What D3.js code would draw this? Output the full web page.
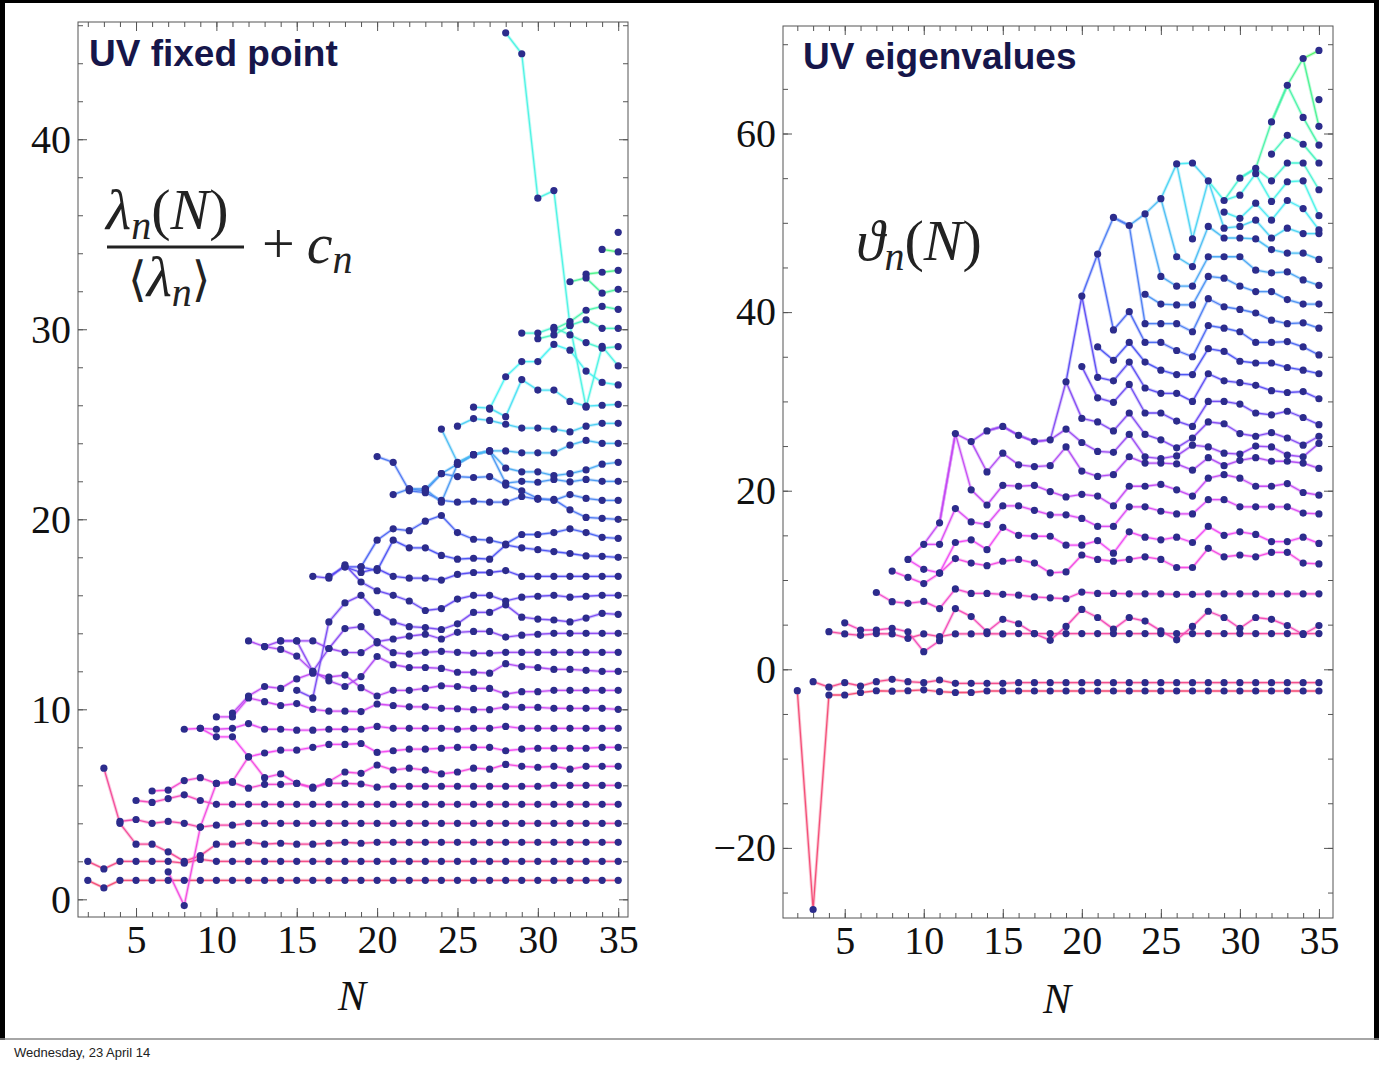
<!DOCTYPE html>
<html><head><meta charset="utf-8">
<script src="https://cdn.jsdelivr.net/npm/d3@7"></script>
<style>
body{margin:0;background:#fff;}
svg{display:block;}
</style></head><body>
<svg id="c" width="1379" height="1066"></svg>
<script>
// ---------------- LEFT PANEL: lambda_n(N)/<lambda_n> + c_n ; series n starts at N = max(2, n+1)
const lam0 = [1,0.6, 1,1,1,1,1,1,1,1, 1,1,1,1,1,1,1,1, 1,1,1,1,1,1,1,1, 1,1,1,1,1,1,1,1];
const lam1 = [2,1.6,2,2,2,2,1.9,2.1,2, 2,2,2,2,2,2,2,2, 2,2,2,2,2,2,2,2, 2,2,2,2,2,2,2,2, 2];
const lam2 = [6.9,4.0,2.9,2.9,2.5,2.0,2.3,2.9,2.9,3.0,2.9,2.95,2.9,2.9,2.95,3.0,2.95, 3,3,3,3,3,3,3,3, 3,3,3,3,3,3,3,3];
const lam3 = [4.1,4.2,4.0,4.1,4.0,3.8,3.9,3.9,4.0, 4,4,4,4,4,4,4,4, 4,4,4,4,4,4,4,4, 4,4,4,4,4,4,4];
const lam4 = [5.2,5.1,5.3,5.5,5.2,5.0, 5,5,5,5,5,5,5,5, 5,5,5,5,5,5,5,5, 5,5,5,5,5,5,5,5, 5];
const lam5 = [5.7,5.75,6.25,6.4,6.1,6.15,5.85,6.05,6.05,6.1,5.9,6.1,6.1,6.07,5.9,5.95,5.95,5.95,5.95,5.95,5.95,5.95,5.95,5.95,5.95,6,6,6,6,6];
const lam6 = [1.45,-0.33,3.8,6.1,6.2,7.5,6.4,6.6,6.1,5.85,6.2,6.7,6.63,7.07,6.8,6.9,6.8,6.6,6.7,6.9,6.85,7.1,7.0,6.95,7.0,6.85,7.0,7.0,7.0];
const lam7 = [8.95,9.0,8.55,8.55,7.5,7.7,7.85,7.85,8.0,8.15,8.15,8.2,7.73,7.82,7.9,7.9,7.95,8.0,8.0,8.0,7.82,7.9,7.95,7.95,7.95,7.95,8.0,8.0];
const lam8 = [9.0,8.95,9.0,9.25,8.95,8.95,8.9,8.9,8.95,8.95,8.95,9.1,9.0,9.0,9.0,9.0,8.95,9.0,9.0,9.1,9.0,9.0,9.0,9.0,9.0,9.0,9.0];
const lam9 = [9.6,9.6,10.6,10.4,10.2,10.3,10.0,9.9,9.9,9.88,10.28,10.2,10.13,10.13,10.05,10.03,9.98,9.98,10.13,10.1,10.1,10.05,10.05,10.05,10.05,10.0];
const lam10 = [9.8,10.7,11.2,11.1,11.6,11.9,11.7,11.8,11.14,10.7,11.0,11.0,11.1,11.24,11.2,11.1,11.1,10.8,10.93,10.93,11.0,11.0,11.0,11.0,11.0];
const lam11 = [13.6,13.3,13.15,12.8,12.0,11.5,11.2,11.72,12.78,12.35,12.2,12.2,12.15,11.95,11.95,11.9,12.4,12.25,12.2,12.1,12.1,12.05,12.0,12.0];
const lam12 = [13.3,13.6,13.6,13.6,13.2,13.0,12.98,13.5,12.98,12.9,13.0,13.05,13.0,12.95,12.95,13.0,13.0,13.0,13.0,13.0,13.0,13.0,13.0];
const lam13 = [13.6,13.6,12.0,13.2,14.25,14.35,13.56,13.7,13.85,13.95,13.7,14.05,14.1,14.1,13.8,13.9,13.95,14.0,14.0,14.0,14.0,14.0];
const lam14 = [11.0,10.6,14.6,15.6,16.0,15.1,14.6,14.35,14.3,14.2,14.5,15.1,15.1,15.5,14.85,14.75,14.7,14.6,14.8,15.05,15.0];
const lam15 = [17.0,16.9,17.6,16.7,16.24,16.0,15.7,15.2,15.3,15.8,16.0,16.0,15.7,15.9,15.95,16.0,15.9,15.95,16.0,16.0];
const lam16 = [17.0,17.5,17.2,17.4,17.0,16.9,16.9,16.8,17.1,17.2,17.2,17.3,17.0,17.0,17.0,17.0,17.0,17.0,17.0];
const lam17 = [17.5,17.5,17.3,18.9,18.5,18.5,18.1,17.9,17.95,17.9,18.65,18.5,18.4,18.3,18.2,18.07,18.05,18.0];
const lam18 = [17.5,18.9,19.5,19.4,19.9,20.2,19.3,18.95,18.9,18.7,19.2,19.2,19.3,19.5,19.3,19.05,19.0];
const lam19 = [23.3,23.0,21.5,21.4,21.0,20.9,20.95,20.9,20.9,21.2,21.05,21.05,20.5,20.1,20.05,20.0];
const lam20 = [21.3,21.6,21.5,22.4,22.25,22.2,22.25,21.8,21.5,21.1,21.0,21.3,21.1,21.0,21.0];
const lam21 = [21.6,21.6,20.9,22.9,23.4,23.6,21.9,22.0,21.95,22.1,21.97,22.1,22.0,22.0];
const lam22 = [21.6,22.4,22.9,23.4,23.6,22.7,22.5,22.5,22.3,22.4,22.6,22.9,23.0];
const lam23 = [24.75,23.0,23.4,23.6,23.6,23.5,23.5,23.5,23.9,24.15,24.0,24.0];
const lam24 = [24.9,25.3,25.2,25.0,24.8,24.8,24.75,24.6,24.9,25.05,25.05];
const lam25 = [25.9,25.85,25.4,27.35,26.8,26.8,26.2,25.95,26.0,26.05];
const lam26 = [25.8,27.5,28.3,28.3,29.2,28.9,27.8,27.2,27.07];
const lam27 = [45.6,44.5,36.9,37.3,30.2,25.9,29.1,28.07];
const lam28 = [29.8,29.8,30.1,29.7,29.3,29.0,29.09];
const lam29 = [29.5,29.7,30.2,30.5,30.05,30.05];
const lam30 = [30.0,30.4,31.0,31.2,31.05];
const lam31 = [32.5,32.7,31.9,32.1];
const lam32 = [32.9,33.0,33.1];
const lam33 = [34.2,34.07];
const lam34 = [35.1];

// ---------------- RIGHT PANEL: theta_n(N)
const th0 = [-2.39,-26.9,-2.88,-2.88,-2.6,-2.4,-2.45,-2.4,-2.3,-2.5,-2.6,-2.6,-2.43,-2.43, -2.43,-2.43,-2.43,-2.43,-2.43,-2.43,-2.43,-2.43,-2.43,-2.43,-2.43,-2.43,-2.43,-2.43,-2.43,-2.43,-2.43,-2.43,-2.43,-2.43];
const th1 = [-1.38,-2.0,-1.5,-1.87,-1.38,-1.12,-1.38,-1.5,-1.2,-1.57,-1.57,-1.57,-1.57, -1.5,-1.5,-1.5,-1.5,-1.5,-1.5,-1.5,-1.5,-1.5,-1.5,-1.5,-1.5,-1.5,-1.5,-1.5,-1.5,-1.5,-1.5,-1.5,-1.5];
const th2 = [4.21,3.96,3.8,4.0,3.96,3.47,3.96,3.65,3.96,3.96,4.0,3.96, 4,4,4,4,4,4,4,4,4,4,4,4,4,4,4,4,4,4,4,4];
const th3 = [5.2,4.4,4.4,4.6,4.2,1.97,3.2,6.8,5.9,4.2,5.6,5.1,4.0,3.25,4.8,6.7,5.8,4.5,5.8,5.4,4.3,3.3,4.8,6.5,5.8,4.6,5.8,5.6,4.9,3.9,4.9];
const th4 = [8.6,7.57,7.39,7.6,6.8,9.0,8.5,8.5,8.4,8.3,8.1,8.0,7.9,8.65,8.5,8.5,8.45,8.45,8.45,8.4,8.4,8.45,8.45,8.45,8.45,8.45,8.45,8.45,8.45];
const th5 = [11.0,10.3,9.6,10.75,12.4,11.9,11.6,12.1,12.3,11.9,10.8,10.9,12.8,12.3,12.1,12.3,12.6,12.3,11.4,11.4,13.55,12.6,12.8,12.6,13.1,13.1,11.9,11.8];
const thStarts = [2,3,4,5,7,8];
// upper eigenvalues, one sorted list per N
const up9  = [12.3];
const up10 = [11.2,14.0];
const up11 = [10.8,14.0,16.4];
const up12 = [14.2,18.0,26.4];
const up13 = [14.5,16.5,20.1,25.5];
const up14 = [13.4,16.2,18.4,22.1,26.7];
const up15 = [15.9,18.3,20.6,24.2,27.2];
const up16 = [15.0,18.3,20.5,22.9,26.2];
const up17 = [14.9,17.8,20.6,22.7,25.5];
const up18 = [14.9,17.3,19.9,22.8,25.7];
const up19 = [13.9,17.3,19.3,24.9,26.9,32.2];
const up20 = [13.9,16.9,19.6,22.2,25.4,28.1,33.9,41.8];
const up21 = [14.4,16.0,19.4,21.6,24.4,27.7,30.4,32.7,36.1,46.5];
const up22 = [13.0,16.0,18.3,21.8,24.3,26.7,29.9,32.3,34.6,38.0,50.6];
const up23 = [15.4,18.2,20.5,23.8,26.3,28.7,31.9,34.4,36.6,40.05,49.7];
const up24 = [14.8,18.2,20.5,23.1,23.8,26.3,28.7,31.5,34.4,36.6,38.7,42.0,51.0];
const up25 = [14.5,17.7,20.7,23.1,23.6,25.7,28.7,30.9,33.5,36.6,38.7,40.9,44.0,52.7];
const up26 = [14.8,17.4,20.1,23.0,23.9,24.8,27.8,30.9,33.0,35.7,38.7,40.8,42.9,46.2,56.6];
const up27 = [14.2,17.4,19.4,22.3,25.1,25.9,27.2,30.0,33.0,35.0,37.8,40.8,42.9,45.1,48.2,56.7];
const up28 = [16.0,19.0,21.4,23.7,24.9,27.7,30.0,33.1,35.9,38.5,41.5,44.0,46.2,49.6,54.7];
const up29 = [15.0,19.0,21.8,22.8,24.2,27.5,30.0,32.3,35.6,38.2,40.6,43.8,46.2,48.3,49.4,51.2,52.5];
const up30 = [15.4,18.2,21.4,23.4,24.1,26.4,29.7,32.1,34.5,37.8,40.3,42.9,46.2,48.3,49.6,50.5,53.1,55.0];
const up31 = [15.1,18.2,20.5,23.7,25.0,26.1,28.7,31.8,34.3,36.6,39.9,42.3,44.7,48.2,50.3,52.2,55.5,56.1];
const up32 = [14.3,18.2,20.5,23.3,24.9,26.5,28.5,31.2,34.3,36.6,39.1,42.3,44.4,47.0,48.3,50.3,52.4,54.7,57.7,61.3];
const up33 = [14.3,18.2,20.8,23.3,24.0,25.9,28.9,31.0,33.8,36.7,38.7,41.4,44.5,46.6,49.4,52.5,54.6,56.7,59.8,65.4];
const up34 = [14.8,17.5,19.8,23.1,23.8,25.1,28.2,31.1,33.5,36.1,38.8,40.9,43.6,46.6,48.8,51.6,54.7,56.7,58.8,61.8,68.4];
const up35 = [14.1,17.4,19.5,22.5,25.3,26.1,27.4,30.3,33.1,35.2,38.2,40.9,43.0,45.9,48.8,49.2,50.8,53.7,56.7,58.7,60.8,63.8,69.3];

// ticks
const xMajor = [5,10,15,20,25,30,35];
const xMinor = d3.range(2,36);
const leftYMajor = [0,10,20,30,40];
const leftYMinor = d3.range(0,47,2);
const rightYMajor = [-20,0,20,40,60];
const rightYMinor = d3.range(-25,71,5);

// ---------------- drawing
const svg = d3.select("#c");
const DOT = "#2c2c8c";
function lineColor(t){ return d3.hsl(345 - 215*Math.min(1,Math.max(0,t)), 0.88, 0.62).toString(); }

function frameAxes(box, xs, ys, yMaj, yMin){
  const g = svg.append("g");
  const mk = (axis, tr, vals, size, labels, pad) => {
    const a = g.append("g").attr("transform", tr)
      .call(axis.tickValues(vals).tickSizeInner(-size).tickSizeOuter(0).tickPadding(pad)
        .tickFormat(labels ? d3.format("d") : ""));
    a.select(".domain").remove();
    a.selectAll("line").attr("stroke","#555").attr("stroke-width",1);
    a.attr("font-family","Liberation Serif, Times New Roman, serif").attr("font-size",40);
    a.selectAll("text").attr("fill","#111");
    return a;
  };
  mk(d3.axisBottom(xs), `translate(0,${box.y1})`, xMajor, 9, true, 8);
  mk(d3.axisBottom(xs), `translate(0,${box.y1})`, xMinor, 5, false, 8);
  mk(d3.axisTop(xs), `translate(0,${box.y0})`, xMajor, 9, false, 5);
  mk(d3.axisTop(xs), `translate(0,${box.y0})`, xMinor, 5, false, 5);
  mk(d3.axisLeft(ys), `translate(${box.x0},0)`, yMaj, 9, true, 7);
  mk(d3.axisLeft(ys), `translate(${box.x0},0)`, yMin, 5, false, 7);
  mk(d3.axisRight(ys), `translate(${box.x1},0)`, yMaj, 9, false, 5);
  mk(d3.axisRight(ys), `translate(${box.x1},0)`, yMin, 5, false, 5);
  g.append("rect").attr("x",box.x0).attr("y",box.y0).attr("width",box.x1-box.x0).attr("height",box.y1-box.y0)
    .attr("fill","none").attr("stroke","#555").attr("stroke-width",1);
}

function drawLine(g, pts, color){
  const line = d3.line().defined(d=>d!=null).x(d=>d[2]).y(d=>d[3]);
  g.append("path").attr("d",line(pts)).attr("fill","none").attr("stroke",color)
    .attr("stroke-width",3.2).attr("stroke-opacity",0.3).attr("stroke-linejoin","round");
  g.append("path").attr("d",line(pts)).attr("fill","none").attr("stroke",color)
    .attr("stroke-width",1.3).attr("stroke-opacity",0.95).attr("stroke-linejoin","round");
}

// ---- left panel
(function(){
  const box = {x0:78, x1:628, y0:22, y1:917};
  const xs = d3.scaleLinear().domain([1.39,35.61]).range([box.x0,box.x1]);
  const ys = d3.scaleLinear().domain([-0.93,46.17]).range([box.y1,box.y0]);
  const series = [lam0,lam1,lam2,lam3,lam4,lam5,lam6,lam7,lam8,lam9,lam10,lam11,lam12,lam13,lam14,lam15,lam16,lam17,lam18,lam19,lam20,lam21,lam22,lam23,lam24,lam25,lam26,lam27,lam28,lam29,lam30,lam31,lam32,lam33,lam34];
  const gl = svg.append("g"), gd = svg.append("g");
  const allPts = [];
  series.forEach((vals,n)=>{
    const s = Math.max(2,n+1);
    const pts = vals.map((v,i)=>[s+i, v, xs(s+i), ys(v)]);
    drawLine(gl, pts, lineColor(n/34));
    allPts.push(...pts);
  });
  gd.selectAll("circle").data(allPts).join("circle")
    .attr("cx",d=>d[2]).attr("cy",d=>d[3]).attr("r",3.6).attr("fill",DOT);
  frameAxes(box, xs, ys, leftYMajor, leftYMinor);
})();

// ---- right panel
(function(){
  const box = {x0:783, x1:1333, y0:26, y1:918};
  const xs = d3.scaleLinear().domain([1.095,35.89]).range([box.x0,box.x1]);
  const ys = d3.scaleLinear().domain([-27.85,72.04]).range([box.y1,box.y0]);
  const low = [th0,th1,th2,th3,th4,th5];
  const cols = [up9,up10,up11,up12,up13,up14,up15,up16,up17,up18,up19,up20,up21,up22,up23,up24,up25,up26,up27,up28,up29,up30,up31,up32,up33,up34,up35];
  const colN = d3.range(9,36);
  const G = 28;
  const gl = svg.append("g"), gd = svg.append("g");
  const allPts = [];
  low.forEach((vals,k)=>{
    const s = thStarts[k];
    const pts = vals.map((v,i)=>[s+i, v, xs(s+i), ys(v)]);
    drawLine(gl, pts, lineColor(k/G));
    allPts.push(...pts);
  });
  const maxLen = d3.max(cols, c=>c.length);
  for(let i=0;i<maxLen;i++){
    const pts = cols.map((c,j)=> c.length>i ? [colN[j], c[i], xs(colN[j]), ys(c[i])] : null);
    drawLine(gl, pts, lineColor((6+i)/G));
  }
  for(let j=0;j<cols.length-1;j++){
    const a = cols[j], b = cols[j+1];
    const p = [[colN[j],a[a.length-1],xs(colN[j]),ys(a[a.length-1])],[colN[j+1],b[b.length-1],xs(colN[j+1]),ys(b[b.length-1])]];
    drawLine(gl, p, lineColor((6+b.length-1)/G));
  }
  cols.forEach((c,j)=>c.forEach(v=>allPts.push([colN[j],v,xs(colN[j]),ys(v)])));
  gd.selectAll("circle").data(allPts).join("circle")
    .attr("cx",d=>d[2]).attr("cy",d=>d[3]).attr("r",3.6).attr("fill",DOT);
  frameAxes(box, xs, ys, rightYMajor, rightYMinor);
})();

// ---------------- titles, math labels, axis labels
const serif = "Liberation Serif, DejaVu Serif, serif";
svg.append("text").attr("x",89).attr("y",66).attr("font-family","Liberation Sans, Arial, sans-serif")
  .attr("font-weight","bold").attr("font-size",37).attr("fill","#16164a").text("UV fixed point");
svg.append("text").attr("x",803).attr("y",69).attr("font-family","Liberation Sans, Arial, sans-serif")
  .attr("font-weight","bold").attr("font-size",37).attr("fill","#16164a").text("UV eigenvalues");

// left formula
const FS = 58, SUB = 40;
const num = svg.append("text").attr("x",106).attr("y",229).attr("font-family",serif).attr("font-size",FS).attr("fill","#222");
num.append("tspan").attr("font-style","italic").text("λ");
num.append("tspan").attr("font-style","italic").attr("font-size",SUB).attr("dy",10).text("n");
num.append("tspan").attr("dy",-10).text("(");
num.append("tspan").attr("font-style","italic").text("N");
num.append("tspan").text(")");
svg.append("line").attr("x1",107).attr("x2",244).attr("y1",247).attr("y2",247).attr("stroke","#222").attr("stroke-width",2.8);
const den = svg.append("text").attr("x",128).attr("y",296).attr("font-family",serif).attr("font-size",FS).attr("fill","#222");
den.append("tspan").attr("font-family","DejaVu Serif, serif").attr("font-size",48).text("⟨");
den.append("tspan").attr("font-style","italic").text("λ");
den.append("tspan").attr("font-style","italic").attr("font-size",SUB).attr("dy",10).text("n");
den.append("tspan").attr("dy",-10).attr("font-family","DejaVu Serif, serif").attr("font-size",48).text("⟩");
const plus = svg.append("text").attr("x",262).attr("y",263).attr("font-family",serif).attr("font-size",FS).attr("fill","#222");
plus.append("tspan").text("+");
plus.append("tspan").attr("dx",12).attr("font-style","italic").text("c");
plus.append("tspan").attr("font-style","italic").attr("font-size",SUB).attr("dy",10).text("n");

// right formula
const th = svg.append("text").attr("x",856).attr("y",260).attr("font-family",serif).attr("font-size",FS).attr("fill","#222");
th.append("tspan").attr("font-style","italic").text("ϑ");
th.append("tspan").attr("font-style","italic").attr("font-size",SUB).attr("dy",10).text("n");
th.append("tspan").attr("dy",-10).text("(");
th.append("tspan").attr("font-style","italic").text("N");
th.append("tspan").text(")");

svg.append("text").attr("x",352).attr("y",1010).attr("text-anchor","middle").attr("font-family",serif)
  .attr("font-style","italic").attr("font-size",42).attr("fill","#111").text("N");
svg.append("text").attr("x",1057).attr("y",1013).attr("text-anchor","middle").attr("font-family",serif)
  .attr("font-style","italic").attr("font-size",42).attr("fill","#111").text("N");

// page border and footer
svg.append("rect").attr("x",0).attr("y",0).attr("width",1379).attr("height",3).attr("fill","#000");
svg.append("rect").attr("x",0).attr("y",0).attr("width",5).attr("height",1040).attr("fill","#000");
svg.append("rect").attr("x",1374).attr("y",0).attr("width",5).attr("height",1040).attr("fill","#000");
svg.append("line").attr("x1",0).attr("x2",1379).attr("y1",1039).attr("y2",1039).attr("stroke","#888").attr("stroke-width",1.5);
svg.append("text").attr("x",14).attr("y",1057).attr("font-family","Liberation Sans, Arial, sans-serif")
  .attr("font-size",13).attr("fill","#222").text("Wednesday, 23 April 14");
</script></body></html>
